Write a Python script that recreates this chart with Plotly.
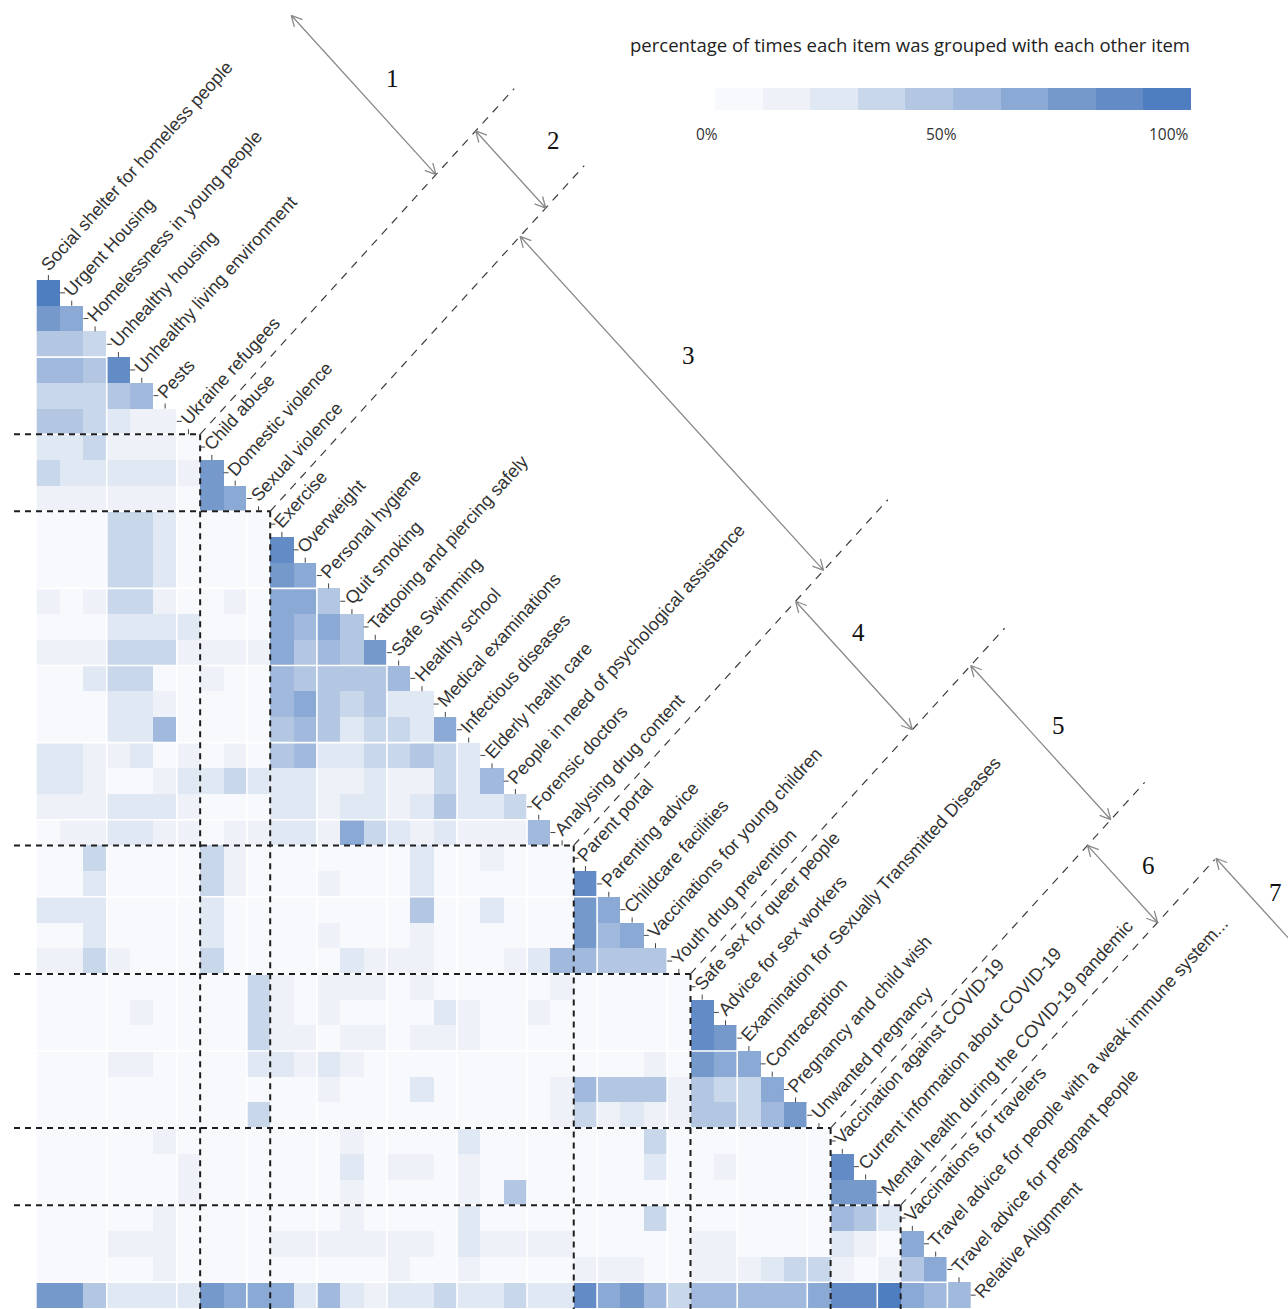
import math
import plotly.graph_objects as go

# ---------------------------------------------------------------------------
# Items (in matrix order) and their groups
# ---------------------------------------------------------------------------
items = [
    "Social shelter for homeless people", "Urgent Housing", "Homelessness in young people",
    "Unhealthy housing", "Unhealthy living environment", "Pests", "Ukraine refugees",
    "Child abuse", "Domestic violence", "Sexual violence",
    "Exercise", "Overweight", "Personal hygiene", "Quit smoking",
    "Tattooing and piercing safely", "Safe Swimming", "Healthy school",
    "Medical examinations", "Infectious diseases", "Elderly health care",
    "People in need of psychological assistance", "Forensic doctors",
    "Analysing drug content",
    "Parent portal", "Parenting advice", "Childcare facilities",
    "Vaccinations for young children", "Youth drug prevention",
    "Safe sex for queer people", "Advice for sex workers",
    "Examination for Sexually Transmitted Diseases", "Contraception",
    "Pregnancy and child wish", "Unwanted pregnancy",
    "Vaccination against COVID-19", "Current information about COVID-19",
    "Mental health during the COVID-19 pandemic",
    "Vaccinations for travelers", "Travel advice for people with a weak immune system...",
    "Travel advice for pregnant people", "Relative Alignment",
]
group_sizes = [7, 3, 13, 5, 6, 3, 3]
group_names = ["1", "2", "3", "4", "5", "6", "7"]

# ---------------------------------------------------------------------------
# Percentage of times each item was grouped with each earlier item
# (one list per row, columns in item order)
# ---------------------------------------------------------------------------
urgent_housing = [92]
homelessness_young = [72, 65]
unhealthy_housing = [42, 42, 35]
unhealthy_living = [52, 50, 45, 88]
pests = [37, 35, 35, 48, 52]
ukraine_refugees = [43, 43, 36, 20, 18, 12]
child_abuse = [25, 23, 33, 19, 19, 12, 8]
domestic_violence = [31, 28, 27, 22, 22, 21, 12, 78]
sexual_violence = [12, 12, 10, 18, 17, 10, 5, 72, 68]
exercise = [5, 6, 6, 36, 36, 28, 2, 4, 3, 4]
overweight = [2, 2, 3, 34, 32, 22, 1, 2, 1, 2, 85]
personal_hygiene = [3, 3, 6, 31, 31, 28, 2, 3, 3, 2, 74, 68]
quit_smoking = [11, 8, 15, 33, 31, 15, 5, 7, 11, 7, 66, 63, 48]
tattooing = [5, 5, 6, 28, 21, 26, 22, 5, 5, 6, 64, 52, 62, 41]
safe_swimming = [15, 13, 15, 39, 35, 31, 13, 11, 15, 12, 63, 46, 52, 45, 72]
healthy_school = [2, 3, 21, 33, 33, 7, 5, 14, 3, 3, 52, 48, 42, 41, 41, 55]
medical_exams = [3, 5, 6, 21, 21, 18, 5, 3, 5, 5, 55, 65, 45, 38, 45, 26, 23]
infectious = [6, 6, 8, 27, 24, 52, 6, 5, 8, 6, 41, 52, 43, 26, 32, 35, 23, 66]
elderly_care = [24, 26, 15, 18, 27, 5, 16, 6, 11, 9, 43, 52, 26, 28, 31, 31, 41, 38, 26]
psych_assistance = [25, 25, 15, 6, 8, 11, 23, 26, 36, 23, 22, 26, 18, 16, 26, 18, 18, 36, 22, 52]
forensic_doctors = [17, 17, 11, 24, 28, 28, 11, 7, 7, 9, 22, 21, 18, 28, 24, 16, 29, 41, 21, 21, 37]
drug_content = [7, 11, 11, 23, 23, 19, 11, 9, 11, 19, 28, 24, 18, 62, 33, 25, 19, 24, 18, 15, 18, 52]
parent_portal = [6, 6, 31, 2, 2, 2, 4, 33, 15, 5, 3, 4, 6, 2, 2, 6, 28, 2, 2, 11, 2, 2, 2]
parenting_advice = [5, 6, 28, 3, 3, 3, 3, 34, 19, 6, 3, 4, 11, 6, 4, 6, 26, 3, 3, 8, 4, 4, 6, 85]
childcare = [21, 21, 28, 2, 2, 3, 9, 28, 5, 2, 2, 6, 3, 2, 2, 8, 43, 2, 4, 26, 4, 3, 3, 78, 68]
vacc_children = [2, 2, 22, 2, 2, 4, 3, 25, 5, 3, 3, 3, 11, 4, 6, 6, 11, 9, 8, 7, 4, 4, 4,
                 72, 55, 62]
youth_drugs = [11, 16, 31, 11, 9, 9, 6, 32, 9, 5, 5, 2, 8, 28, 12, 18, 14, 6, 6, 9, 18, 24,
               52, 52, 44, 45, 41]
safe_sex_queer = [3, 3, 5, 9, 9, 7, 3, 2, 3, 34, 16, 7, 11, 12, 19, 8, 11, 5, 6, 8, 5, 8,
                  11, 2, 2, 3, 6, 8]
sex_workers = [3, 3, 4, 9, 11, 7, 3, 2, 2, 36, 12, 7, 15, 9, 9, 6, 8, 21, 19, 8, 8, 11, 8,
               2, 2, 2, 2, 7, 84]
std_exam = [3, 3, 4, 6, 9, 6, 2, 2, 3, 33, 11, 11, 9, 14, 11, 9, 11, 11, 11, 7, 9, 9, 8,
            2, 2, 2, 4, 6, 82, 76]
contraception = [2, 2, 2, 11, 11, 7, 2, 2, 2, 28, 21, 19, 28, 11, 4, 4, 6, 6, 5, 6, 4, 6,
                 8, 2, 2, 4, 11, 6, 72, 64, 62]
pregnancy_wish = [2, 2, 7, 9, 7, 2, 2, 9, 5, 8, 2, 4, 11, 6, 8, 6, 22, 2, 2, 4, 6, 6, 14,
                  52, 46, 45, 42, 12, 41, 34, 39, 62]
unwanted_pregnancy = [2, 2, 6, 5, 3, 3, 2, 6, 8, 34, 2, 2, 2, 4, 2, 2, 4, 2, 4, 6, 6, 7, 11,
                      36, 19, 21, 19, 14, 43, 41, 36, 52, 72]
covid_vaccination = [2, 2, 2, 4, 4, 11, 6, 2, 2, 2, 4, 6, 6, 18, 2, 4, 5, 4, 22, 4, 4, 6,
                     6, 2, 2, 2, 36, 2, 4, 4, 6, 4, 4, 4]
covid_information = [2, 2, 2, 6, 6, 9, 18, 2, 2, 2, 4, 6, 6, 21, 4, 11, 11, 6, 19, 4, 4, 4,
                     4, 2, 2, 2, 21, 2, 6, 11, 4, 4, 4, 4, 84]
covid_mental_health = [2, 4, 4, 4, 4, 6, 11, 6, 6, 4, 4, 4, 2, 12, 4, 4, 4, 4, 11, 4, 42,
                       6, 4, 2, 2, 2, 9, 2, 2, 2, 2, 4, 4, 4, 76, 72]
travel_vaccinations = [2, 2, 2, 4, 4, 15, 6, 2, 2, 2, 6, 6, 8, 16, 2, 6, 6, 6, 26, 4, 4, 4,
                       4, 2, 2, 2, 38, 2, 2, 2, 6, 4, 4, 4, 54, 42, 28]
travel_weak_immune = [2, 2, 3, 11, 11, 15, 6, 2, 4, 6, 14, 18, 12, 15, 14, 18, 12, 9, 24,
                      14, 14, 11, 12, 2, 4, 6, 4, 2, 11, 11, 4, 4, 4, 8, 22, 15, 6, 64]
travel_pregnant = [2, 2, 2, 4, 4, 11, 6, 2, 2, 2, 2, 2, 4, 6, 4, 14, 9, 6, 15, 4, 4, 4, 4,
                   15, 18, 15, 6, 6, 12, 18, 12, 24, 36, 36, 11, 4, 11, 45, 62]
relative_alignment = [72, 72, 48, 22, 22, 26, 22, 76, 64, 62, 64, 24, 52, 22, 19, 22, 26,
                      34, 21, 24, 36, 22, 22, 82, 64, 72, 52, 36, 56, 52, 53, 53, 52, 64,
                      86, 86, 92, 64, 55, 52]

rows = [
    urgent_housing, homelessness_young, unhealthy_housing, unhealthy_living, pests,
    ukraine_refugees, child_abuse, domestic_violence, sexual_violence, exercise,
    overweight, personal_hygiene, quit_smoking, tattooing, safe_swimming,
    healthy_school, medical_exams, infectious, elderly_care, psych_assistance,
    forensic_doctors, drug_content, parent_portal, parenting_advice, childcare,
    vacc_children, youth_drugs, safe_sex_queer, sex_workers, std_exam,
    contraception, pregnancy_wish, unwanted_pregnancy, covid_vaccination,
    covid_information, covid_mental_health, travel_vaccinations,
    travel_weak_immune, travel_pregnant, relative_alignment,
]

# ---------------------------------------------------------------------------
# Geometry of the cell grid on the page (pixels)
# ---------------------------------------------------------------------------
FIG_W, FIG_H = 1288, 1309
CELL_W, CELL_H = 23.35, 25.7
GRID_LEFT, GRID_TOP = 36.7, 280.0


def to_data(px, py):
    return (px - GRID_LEFT) / CELL_W + 0.5, (py - GRID_TOP) / CELL_H + 1.5


def to_px(x, y):
    return GRID_LEFT + (x - 0.5) * CELL_W, GRID_TOP + (y - 1.5) * CELL_H


n_items = len(items)
col_ids = list(range(1, n_items))          # columns: items 1..40
row_ids = list(range(2, n_items + 1))      # rows: items 2..41
z = []
for r, vals in zip(row_ids, rows):
    z.append([vals[c - 1] if c < r else None for c in col_ids])

# stepped blue scale (10 classes)
blues = ["#f8f9fc", "#eef2f8", "#e0e8f3", "#c9d7eb", "#b3c7e3",
         "#a0b9dd", "#8aa9d4", "#7699cc", "#638bc6", "#4f7ec0"]
colorscale = []
for i, c in enumerate(blues):
    colorscale.append([i / len(blues), c])
    colorscale.append([(i + 1) / len(blues), c])

cb_left, cb_right, cb_top = 715, 1191, 88

fig = go.Figure(go.Heatmap(
    x=col_ids, y=row_ids, z=z, zmin=0, zmax=100,
    colorscale=colorscale, hoverongaps=False,
    colorbar=dict(
        orientation="h", lenmode="pixels", len=cb_right - cb_left,
        thicknessmode="pixels", thickness=22,
        x=(cb_left + cb_right) / 2 / FIG_W, xanchor="center",
        y=1 - cb_top / FIG_H, yanchor="top",
        xpad=0, ypad=0, outlinewidth=0, showticklabels=False, ticks="",
    ),
))

shapes = []
annotations = []

# white separators every three cells
for k in range(3, n_items, 3):
    xb = k + 0.5
    shapes.append(dict(type="line", x0=xb, x1=xb, y0=xb, y1=n_items + 0.5,
                       line=dict(color="white", width=1.6), layer="above"))
for k in range(4, n_items, 3):
    yb = k + 0.5
    shapes.append(dict(type="line", x0=0.5, x1=k - 0.5, y0=yb, y1=yb,
                       line=dict(color="white", width=1.6), layer="above"))

# group boundaries
ends = []
acc = 0
for s in group_sizes:
    acc += s
    ends.append(acc)
boundaries = ends[:-1]

left_edge, _ = to_data(14, 0)
_, bottom_edge = to_data(0, FIG_H + 5)
DIAG_LEN = 13.45
for b in boundaries:
    e = b + 0.5
    shapes.append(dict(type="line", x0=left_edge, x1=e, y0=e, y1=e,
                       line=dict(color="#1e1e1e", width=2, dash="6px,5px")))
    shapes.append(dict(type="line", x0=e, x1=e, y0=e, y1=bottom_edge,
                       line=dict(color="#1e1e1e", width=2, dash="6px,5px")))
    shapes.append(dict(type="line", x0=e, x1=e + DIAG_LEN, y0=e, y1=e - DIAG_LEN,
                       line=dict(color="#3c3c3c", width=1.2, dash="8px,7px")))

# staircase ticks
tick_path = ""
TICK = 5
for k in range(1, n_items + 1):
    if k < n_items:
        px, py = to_px(k, k + 0.5)
        x0, y0 = to_data(px, py)
        x1, y1 = to_data(px, py - TICK)
        tick_path += f"M{x0},{y0}L{x1},{y1}"
    if k > 1:
        px, py = to_px(k - 0.5, k)
        x0, y0 = to_data(px, py)
        x1, y1 = to_data(px + TICK, py)
        tick_path += f"M{x0},{y0}L{x1},{y1}"
shapes.append(dict(type="path", path=tick_path, line=dict(color="#444", width=1)))

# item labels along the diagonal
FS = 18
ANG = 47.8
box_h = FS * 1.17
s_a, c_a = math.sin(math.radians(ANG)), math.cos(math.radians(ANG))
for k, name in enumerate(items, start=1):
    annotations.append(dict(
        x=k - 0.5 + 8 / CELL_W, y=k, text=name, showarrow=False,
        textangle=-ANG, xanchor="left", yanchor="bottom",
        xshift=-box_h * s_a / 2, yshift=-box_h * c_a / 2,
        borderpad=0, borderwidth=0,
        font=dict(family="Liberation Sans, Arial, sans-serif", size=FS, color="#333"),
    ))

# double-headed arrows spanning each group
arrow_offsets = [10.1, 11.8, 10.7, 9.5, 12.0, 11.0, 13.5]
starts = [0.8] + ends[:-1]
stops = ends[:-1] + [n_items]
number_px = [(392, 78), (553, 140), (688, 355), (858, 632), (1058, 725),
             (1148, 865), (1275, 892)]
ARM, HALF = 12, math.radians(27)


def head(tip, direction):
    out = ""
    for sgn in (1, -1):
        a = math.atan2(direction[1], direction[0]) + sgn * HALF
        ex, ey = tip[0] - ARM * math.cos(a), tip[1] - ARM * math.sin(a)
        d0 = to_data(*tip)
        d1 = to_data(ex, ey)
        out += f"M{d1[0]},{d1[1]}L{d0[0]},{d0[1]}"
    return out


for g, (b0, b1, t) in enumerate(zip(starts, stops, arrow_offsets)):
    a = to_px(b0 + 0.5 + t, b0 + 0.5 - t)
    z_ = to_px(b1 + 0.5 + t, b1 + 0.5 - t)
    dx, dy = z_[0] - a[0], z_[1] - a[1]
    ln = math.hypot(dx, dy)
    u = (dx / ln, dy / ln)
    da, dz = to_data(*a), to_data(*z_)
    path = f"M{da[0]},{da[1]}L{dz[0]},{dz[1]}"
    path += head(a, (-u[0], -u[1]))
    if g < len(group_sizes) - 1:
        path += head(z_, u)
    shapes.append(dict(type="path", path=path, line=dict(color="#8a8a8a", width=1.3)))
    nx, ny = to_data(*number_px[g])
    annotations.append(dict(x=nx, y=ny, text=group_names[g], showarrow=False,
                            font=dict(family="Liberation Serif, Times New Roman, serif",
                                      size=25, color="#111")))

# colour legend texts
annotations.append(dict(
    xref="paper", yref="paper", x=910 / FIG_W, y=1 - 45 / FIG_H,
    text="percentage of times each item was grouped with each other item",
    showarrow=False, xanchor="center", yanchor="middle",
    font=dict(family="Open Sans, sans-serif", size=18.5, color="#222")))
for txt, px in [("0%", 707), ("50%", 941), ("100%", 1169)]:
    annotations.append(dict(
        xref="paper", yref="paper", x=px / FIG_W, y=1 - 134 / FIG_H, text=txt,
        showarrow=False, xanchor="center", yanchor="middle",
        font=dict(family="Open Sans, sans-serif", size=15.5, color="#333")))

x_lo, _ = to_data(0, 0)
x_hi, _ = to_data(FIG_W, 0)
_, y_top = to_data(0, 0)
_, y_bot = to_data(0, FIG_H)

fig.update_layout(
    width=FIG_W, height=FIG_H,
    margin=dict(l=0, r=0, t=0, b=0),
    paper_bgcolor="white", plot_bgcolor="white",
    xaxis=dict(range=[x_lo, x_hi], visible=False, fixedrange=True),
    yaxis=dict(range=[y_bot, y_top], visible=False, fixedrange=True),
    shapes=shapes, annotations=annotations, showlegend=False,
)

fig.write_html("out.html")
